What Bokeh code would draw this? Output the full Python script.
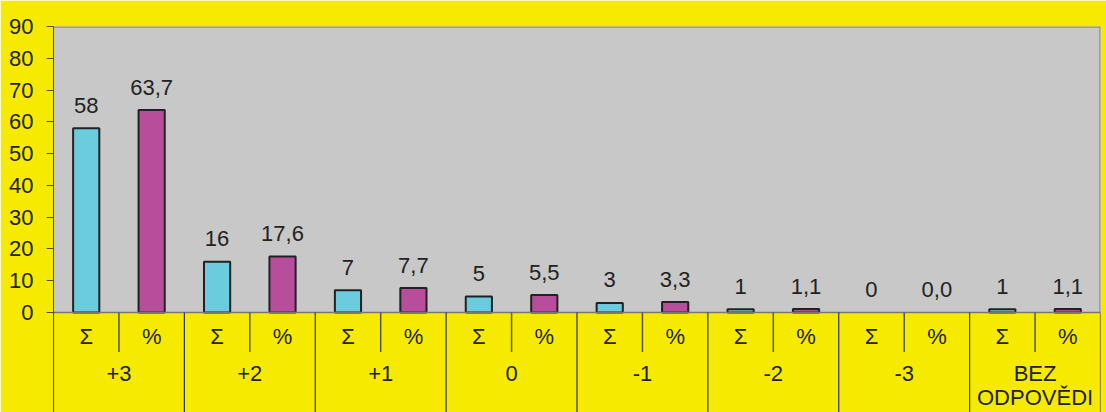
from bokeh.plotting import figure
from bokeh.models import Range1d, FixedTicker, ColumnDataSource
from bokeh.core.properties import value
from bokeh.embed import file_html
from bokeh.resources import INLINE

# ---- data ----
groups = ["+3", "+2", "+1", "0", "-1", "-2", "-3", "BEZ\nODPOVĚDI"]
sub_labels = ["Σ", "%"]
counts = [58, 16, 7, 5, 3, 1, 0, 1]
percents = [63.7, 17.6, 7.7, 5.5, 3.3, 1.1, 0.0, 1.1]
y_ticks = [0, 10, 20, 30, 40, 50, 60, 70, 80, 90]

YELLOW = "#F6EB00"
GRAY = "#C8C8C8"
CYAN = "#6ACCDD"
MAGENTA = "#B84D9B"
FONT = "Liberation Sans"
FS = "22px"

PX_PER_UNIT = 286 / 90.0
Y_MIN = -100 / PX_PER_UNIT
ROW_SPLIT = -39.5 / PX_PER_UNIT
SHIFT = 8  # px correction for svg baseline

n = len(groups)
p = figure(width=1106, height=412, x_range=Range1d(0, 2 * n), y_range=Range1d(Y_MIN, 90),
           output_backend="svg", toolbar_location=None, x_axis_location=None,
           min_border_left=53, min_border_right=6, min_border_top=26, min_border_bottom=0)
p.background_fill_color = YELLOW
p.border_fill_color = YELLOW
p.outline_line_color = None
p.grid.visible = False

# gray plot area with border
p.quad(left=[0], right=[2 * n], bottom=[0], top=[90], fill_color=GRAY, line_color=None)
p.segment(x0=[0], y0=[90], x1=[2 * n], y1=[90], line_color="#909090", line_width=2.5)
p.segment(x0=[2 * n], y0=[0], x1=[2 * n], y1=[90], line_color="#909090", line_width=2.5)

# y axis
ax = p.yaxis[0]
ax.ticker = FixedTicker(ticks=y_ticks)
ax.major_tick_in = 0
ax.major_tick_out = 7
ax.minor_tick_line_color = None
ax.axis_line_color = "#444444"
ax.major_tick_line_color = "#555533"
ax.major_label_text_font = FONT
ax.major_label_text_font_size = FS
ax.major_label_text_color = "#222222"
ax.major_label_standoff = 13

# bars
xs_c = [2 * i + 0.5 for i in range(n)]
xs_p = [2 * i + 1.5 for i in range(n)]
bar_c = ColumnDataSource(dict(x=[x for x, v in zip(xs_c, counts) if v > 0],
                              top=[v for v in counts if v > 0]))
bar_p = ColumnDataSource(dict(x=[x for x, v in zip(xs_p, percents) if v > 0],
                              top=[v for v in percents if v > 0]))
p.vbar(x="x", top="top", bottom=0, width=0.4, source=bar_c,
       fill_color=CYAN, line_color="#222222", line_width=2)
p.vbar(x="x", top="top", bottom=0, width=0.4, source=bar_p,
       fill_color=MAGENTA, line_color="#222222", line_width=2)

# zero line
p.segment(x0=[0], y0=[0], x1=[2 * n], y1=[0], line_color="#777777", line_width=1.5)

# value labels
lab = ColumnDataSource(dict(
    x=xs_c + xs_p,
    y=counts + percents,
    t=[str(v) for v in counts] + [("%.1f" % v).replace(".", ",") for v in percents]))
p.text(x="x", y="y", text="t", source=lab, text_align="center", text_baseline="alphabetic",
       y_offset=-15 - SHIFT, text_font=value(FONT), text_font_size=FS, text_color="#222222")

# table lines
p.segment(x0=[2 * i for i in range(n + 1)], y0=[0] * (n + 1),
          x1=[2 * i for i in range(n + 1)], y1=[Y_MIN] * (n + 1),
          line_color="#333333", line_width=1.2)
p.segment(x0=[2 * i + 1 for i in range(n)], y0=[0] * n,
          x1=[2 * i + 1 for i in range(n)], y1=[ROW_SPLIT] * n,
          line_color="#555533", line_width=1.5)

# sub-category labels
sub = ColumnDataSource(dict(x=xs_c + xs_p, t=[sub_labels[0]] * n + [sub_labels[1]] * n))
p.text(x="x", y=-(32 - SHIFT) / PX_PER_UNIT, text="t", source=sub, text_align="center",
       text_baseline="alphabetic", text_font=value(FONT), text_font_size=FS,
       text_color="#222222")

# group labels (multi-line split)
gx, gt, go = [], [], []
for i, g in enumerate(groups):
    for j, line in enumerate(g.split("\n")):
        gx.append(2 * i + 1)
        gt.append(line)
        go.append(j * 24)
grp = ColumnDataSource(dict(x=gx, t=gt, o=go))
p.text(x="x", y=-(71 - SHIFT - 2) / PX_PER_UNIT, text="t", y_offset="o", source=grp,
       text_align="center", text_baseline="alphabetic", text_font=value(FONT),
       text_font_size=FS, text_color="#222222")

html = file_html(p, INLINE)
html = html.replace("<body>", '<body style="background:%s;">' % YELLOW, 1)
open("out.html", "w").write(html)
